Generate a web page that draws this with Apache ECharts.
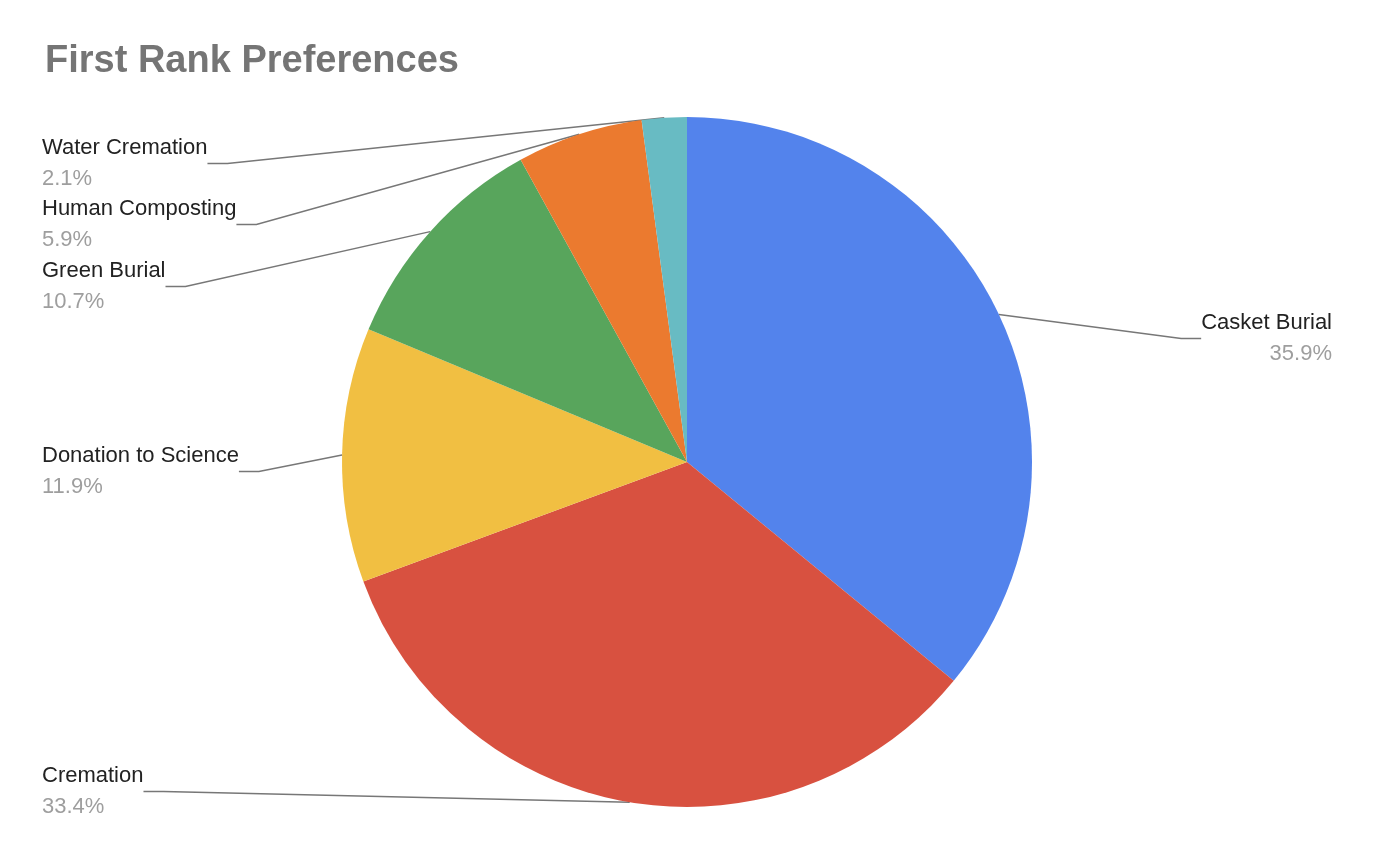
<!DOCTYPE html>
<html><head><meta charset="utf-8">
<script src="https://cdn.jsdelivr.net/npm/echarts@6/dist/echarts.min.js"></script>
<style>html,body{margin:0;padding:0;background:#fff}#c{width:1374px;height:854px}</style>
</head><body><div id="c"></div>
<script>
const categories = ["Casket Burial","Cremation","Donation to Science","Green Burial","Human Composting","Water Cremation"];
const values = [35.9,33.4,11.9,10.7,5.9,2.1];
const colors = ["#5383EC","#D85140","#F1BF42","#58A55C","#EB7A2F","#68BBC3"];
const chart = echarts.init(document.getElementById('c'));
chart.setOption({
  title:{text:"First Rank Preferences",left:40,top:38,textStyle:{fontFamily:"Arial, Liberation Sans",fontSize:38,fontWeight:"bold",color:"#757575"}},
  series:[{
    type:"pie",center:[687,462],radius:[0,345],startAngle:90,clockwise:true,
    data:categories.map((n,i)=>({name:n,value:values[i],itemStyle:{color:colors[i]}})),
    animation:false,
    label:{alignTo:"edge",edgeDistance:42,formatter:p=>"{n|"+p.name+"}\n{p|"+p.value.toFixed(1)+"%}",
      rich:{n:{fontSize:22,color:"#222",fontFamily:"Arial, Liberation Sans",lineHeight:32},p:{fontSize:22,color:"#9e9e9e",fontFamily:"Arial, Liberation Sans",lineHeight:30}}},
    labelLine:{show:true,length:15,length2:20,lineStyle:{color:"#777",width:1.5}},
    labelLayout:function(p){
      const ys={0:307,1:760,2:440,3:255,4:193,5:132};
      return {y:ys[p.dataIndex],verticalAlign:'top',moveOverlap:false};
    }
  }]
});
</script></body></html>
